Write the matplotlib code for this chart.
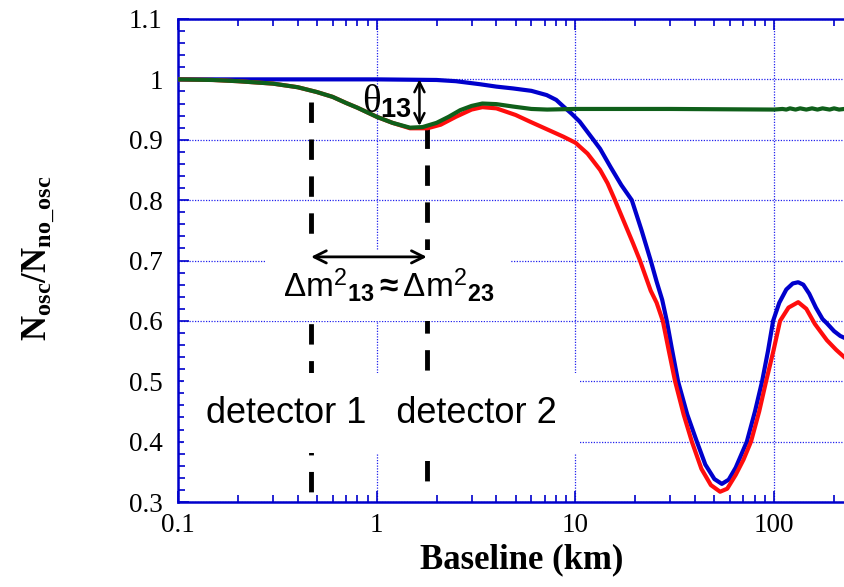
import matplotlib
matplotlib.use('Agg')
import matplotlib.pyplot as plt
from matplotlib.ticker import FixedLocator, LogLocator, MultipleLocator, NullFormatter

plt.rcParams['mathtext.fontset'] = 'custom'
plt.rcParams['mathtext.rm'] = 'Liberation Sans'
plt.rcParams['mathtext.bf'] = 'Liberation Sans:bold'
plt.rcParams['mathtext.it'] = 'Liberation Serif'
plt.rcParams['mathtext.cal'] = 'Liberation Serif:bold'

# curves (baseline km, ratio)
blue_x = [0.1, 1.0, 2.0, 2.5, 3.3, 4.0, 4.85, 6.0, 7.16, 8.0, 8.7, 9.5, 10.5, 12.3, 13.3,
          15, 17, 19.2, 21.5, 23.9, 25.6, 27.3, 28.8, 30.5, 32.8, 36.5, 40.8, 45, 50,
          54.5, 59, 64, 72.8, 80, 86.9, 93, 98.7, 106, 115, 124, 132, 140, 150, 162,
          175, 184, 200, 215, 225]
blue_y = [1.0, 1.0, 0.999, 0.997, 0.992, 0.988, 0.985, 0.981, 0.974, 0.966, 0.955, 0.944,
          0.930, 0.900, 0.885, 0.855, 0.825, 0.800, 0.750, 0.700, 0.665, 0.635, 0.600,
          0.555, 0.500, 0.445, 0.400, 0.362, 0.338, 0.330, 0.337, 0.357, 0.400, 0.450,
          0.500, 0.550, 0.600, 0.630, 0.652, 0.662, 0.664, 0.660, 0.645, 0.622, 0.603,
          0.596, 0.583, 0.575, 0.572]

red_x = [0.1, 0.15, 0.2, 0.3, 0.4, 0.5, 0.6, 0.7, 0.8, 1.0, 1.2, 1.47, 1.8, 2.1, 2.5,
         3.0, 3.4, 4.0, 5.0, 5.9, 7.0, 8.7, 10.0, 11.5, 13.3, 14.5, 15.8, 17.5, 19.5,
         21.1, 23.9, 25.6, 27.5, 29.5, 31.7, 35, 38.5, 43, 48, 53.4, 58, 64, 70, 76.4,
         84, 91, 99, 107, 118, 132, 145, 160, 184, 205, 225]
red_y = [1.0, 0.999, 0.997, 0.993, 0.987, 0.979, 0.971, 0.961, 0.953, 0.938, 0.928,
         0.919, 0.919, 0.925, 0.938, 0.950, 0.954, 0.952, 0.941, 0.930, 0.919, 0.905,
         0.895, 0.877, 0.850, 0.828, 0.800, 0.765, 0.728, 0.700, 0.650, 0.630, 0.600,
         0.550, 0.500, 0.445, 0.400, 0.355, 0.328, 0.317, 0.322, 0.345, 0.370, 0.400,
         0.450, 0.500, 0.550, 0.600, 0.622, 0.631, 0.620, 0.595, 0.568, 0.552, 0.540]

green_x = [0.1, 0.15, 0.2, 0.3, 0.4, 0.5, 0.6, 0.7, 0.8, 1.0, 1.2, 1.47, 1.7, 2.0, 2.3,
           2.63, 3.0, 3.4, 4.0, 4.85, 6.0, 7.2, 10, 30, 100, 110, 115, 120, 128, 135,
           145, 155, 165, 175, 190, 200, 212, 225]
green_y = [1.0, 0.999, 0.997, 0.993, 0.987, 0.979, 0.971, 0.961, 0.953, 0.938, 0.928,
           0.920, 0.921, 0.928, 0.938, 0.949, 0.956, 0.960, 0.959, 0.955, 0.951, 0.950,
           0.951, 0.951, 0.950, 0.951, 0.950, 0.952, 0.950, 0.952, 0.950, 0.952, 0.950,
           0.952, 0.950, 0.952, 0.950, 0.951]

# detector positions and annotation heights
det1_x = [0.467, 0.467]
det1_y = [0.963, 0.308]
det2_x = [1.785, 1.785]
det2_y = [0.919, 0.328]
dm_arrow_y = 0.706
theta_x = 1.64
theta_y = [1.0, 0.923]

ytick_vals = [0.3, 0.4, 0.5, 0.6, 0.7, 0.8, 0.9, 1.0, 1.1]
ytick_labels = ['0.3', '0.4', '0.5', '0.6', '0.7', '0.8', '0.9', '1', '1.1']
xtick_vals = [0.1, 1, 10, 100]
xtick_labels = ['0.1', '1', '10', '100']

axis_blue = '#0000cc'

fig = plt.figure(figsize=(8.45, 5.87), dpi=100)
ax = fig.add_axes([178 / 845, 1 - 502 / 587, 667 / 845, 483 / 587])

ax.plot(blue_x, blue_y, color='#0000cc', lw=3, zorder=4)
ax.plot(red_x, red_y, color='#ff0d0d', lw=3, zorder=5)
ax.plot(green_x, green_y, color='#0f5f1a', lw=3, zorder=6)

ax.set_xscale('log')
ax.set_xlim(0.1, 227)
ax.set_ylim(0.3, 1.1)

ax.xaxis.set_major_locator(FixedLocator(xtick_vals))
ax.set_xticklabels(xtick_labels)
ax.xaxis.set_minor_locator(LogLocator(base=10, subs=range(2, 10)))
ax.xaxis.set_minor_formatter(NullFormatter())
ax.set_yticks(ytick_vals)
ax.set_yticklabels(ytick_labels)
ax.yaxis.set_minor_locator(MultipleLocator(0.02))

for lab in ax.get_xticklabels() + ax.get_yticklabels():
    lab.set_fontfamily('Liberation Serif')
    lab.set_fontsize(19.5)

ax.tick_params(which='both', direction='in', color=axis_blue, top=True, right=False)
ax.tick_params(which='major', length=8, width=1.2)
ax.tick_params(which='minor', length=5, width=1.2)
ax.tick_params(axis='y', pad=11)
ax.tick_params(axis='x', pad=8)

for side in ['left', 'bottom', 'top']:
    ax.spines[side].set_color(axis_blue)
    ax.spines[side].set_linewidth(1.8)
ax.spines['right'].set_visible(False)

ax.grid(True, which='major', color='#2222ee', linestyle=(0, (1, 1.2)), lw=0.9)
ax.set_axisbelow(True)

# detector lines
ax.plot(det1_x, det1_y, color='black', lw=3.5, dashes=(4.2, 3.4), zorder=2)
ax.plot(det2_x, det2_y, color='black', lw=3.5, dashes=(4.2, 3.4), zorder=2)

ax.annotate('', xy=(det1_x[0], dm_arrow_y), xytext=(det2_x[0], dm_arrow_y),
            arrowprops=dict(arrowstyle='<->', lw=2, color='black', mutation_scale=22,
                            shrinkA=0, shrinkB=0), zorder=8)
ax.annotate('', xy=(theta_x, theta_y[0]), xytext=(theta_x, theta_y[1]),
            arrowprops=dict(arrowstyle='<->', lw=1.8, color='black', mutation_scale=18,
                            shrinkA=0, shrinkB=0), zorder=8)

ax.text(1.12, 0.964, r'$\theta_{\mathbf{13}}$', fontsize=28, ha='center', va='center', zorder=7)

ax.text(1.147, 0.659,
        r'$\Delta\mathrm{m}^{2}{}_{\mathbf{13}}\mathbf{\approx}\Delta\mathrm{m}^{2}{}_{\mathbf{23}}$',
        fontsize=24, ha='center', va='center', zorder=7,
        bbox=dict(boxstyle='square,pad=0.5', fc='white', ec='none'))

ax.text(1.06, 0.447, 'detector 1   detector 2', family='Liberation Sans', fontsize=26,
        ha='center', va='center', zorder=7,
        bbox=dict(boxstyle='square,pad=0.62', fc='white', ec='none'))

ax.set_xlabel('Baseline (km)', family='Liberation Serif', fontweight='bold', fontsize=25)
ax.xaxis.set_label_coords((522 - 178) / 667, -(560 - 502) / 483)
ax.xaxis.label.set_va('center')

ax.set_ylabel(r'$\mathcal{N_{osc}/N_{no\_osc}}$', fontsize=25)
ax.yaxis.set_label_coords((38 - 178) / 667, (502 - 258) / 483)
ax.yaxis.label.set_va('center')
ax.yaxis.label.set_ha('center')

fig.savefig('out.png', dpi=100)
